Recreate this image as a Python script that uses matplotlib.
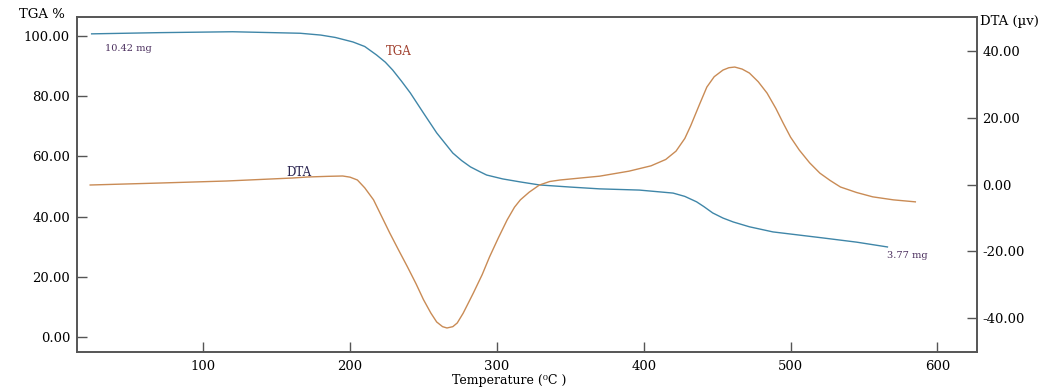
import matplotlib.pyplot as plt

# TGA curve (weight %)
tga_temp = [24, 70, 120, 166, 180, 190, 202, 210, 218, 224, 229, 235, 241, 250,
            259, 270, 276, 282, 288, 293, 304, 316, 329, 350, 370, 397, 420, 428,
            436, 441, 447, 454, 461, 472, 488, 505, 522, 545, 566]
tga_pct = [100.7, 101.1, 101.4, 100.9, 100.3, 99.5, 98.0, 96.5, 93.7, 91.3, 88.7,
           85.0, 81.1, 74.4, 67.8, 61.1, 58.6, 56.5, 55.0, 53.8, 52.5, 51.5,
           50.5, 49.8, 49.2, 48.8, 47.8, 46.7, 44.9, 43.3, 41.2, 39.5, 38.2, 36.6,
           34.9, 33.9, 32.9, 31.5, 29.9]

# DTA curve (microvolt)
dta_temp = [23, 71, 116, 161, 171, 185, 195, 200, 205, 210, 216, 222, 227, 233,
            239, 245, 250, 255, 259, 263, 266, 270, 273, 277, 280, 284, 290, 295,
            301, 307, 312, 316, 322, 329, 336, 343, 370, 390, 405, 415, 422, 428,
            432, 438, 443, 448, 454, 458, 462, 467, 472, 478, 484, 490, 495, 500,
            506, 513, 520, 527, 534, 545, 556, 570, 585]
dta_uv = [-0.15, 0.45, 1.05, 1.95, 2.25, 2.45, 2.55, 2.2, 1.35, -1.0, -4.6, -10.0,
          -14.5, -19.6, -24.6, -29.8, -34.5, -38.5, -41.2, -42.6, -43.0, -42.6,
          -41.5, -38.6, -36.0, -32.5, -27.0, -21.7, -16.0, -10.6, -6.8, -4.6,
          -2.3, -0.15, 0.9, 1.35, 2.5, 4.0, 5.6, 7.5, 10.0, 13.8, 17.6, 24.0,
          29.2, 32.3, 34.3, 35.0, 35.2, 34.6, 33.4, 30.8, 27.4, 22.8, 18.4, 14.2,
          10.3, 6.5, 3.4, 1.2, -0.75, -2.4, -3.7, -4.6, -5.2]

x_ticks = [100, 200, 300, 400, 500, 600]
tga_ticks = [0, 20, 40, 60, 80, 100]
dta_ticks = [-40, -20, 0, 20, 40]

plt.rcParams['font.family'] = ['DejaVu Serif']

fig = plt.figure(figsize=(10.6, 3.89), dpi=100)
ax = fig.add_axes([0.0726, 0.0951, 0.8491, 0.8612])
ax2 = ax.twinx()

ax.plot(tga_temp, tga_pct, color='#3f86a8', lw=1.0)
ax2.plot(dta_temp, dta_uv, color='#c98b55', lw=1.0)

ax.set_xlim(14, 627)
ax.set_ylim(-5, 106.3)
ax2.set_ylim(-50.2, 50.2)

ax.set_xticks(x_ticks)
ax.set_xticklabels([str(t) for t in x_ticks])
ax.set_yticks(tga_ticks)
ax.set_yticklabels(['%.2f' % t for t in tga_ticks])
ax2.set_yticks(dta_ticks)
ax2.set_yticklabels(['%.2f' % t for t in dta_ticks])

for a in (ax, ax2):
    for s in a.spines.values():
        s.set_color('#555555')
        s.set_linewidth(1.2)
ax.tick_params(axis='both', direction='in', length=7, width=1.0, color='#555555',
               labelsize=9.5, pad=5)
ax.tick_params(axis='x', pad=6)
ax2.tick_params(axis='y', direction='in', length=7, width=1.0, color='#555555',
                labelsize=9.5, pad=4)

ax.set_xlabel('Temperature (\u2070C )', fontsize=9, va='center')
ax.xaxis.set_label_coords(0.48, -0.086)

fig.text(42 / 1060, 1 - 15 / 389, 'TGA %', fontsize=9.5, ha='center', va='center')
fig.text(980 / 1060, 1 - 22 / 389, 'DTA (\u00b5v)', fontsize=9.5, ha='left', va='center')

# annotations on the curves
ax.text(33, 96, '10.42 mg', fontsize=7, color='#4b2f5e', va='center')
ax.text(566, 27.2, '3.77 mg', fontsize=7, color='#4b2f5e', va='center')
ax.text(233, 95, 'TGA', fontsize=8.5, color='#a0402e', ha='center', va='center')
ax.text(165, 54.8, 'DTA', fontsize=8.5, color='#2b2550', ha='center', va='center')

fig.savefig('out.png', dpi=100)
